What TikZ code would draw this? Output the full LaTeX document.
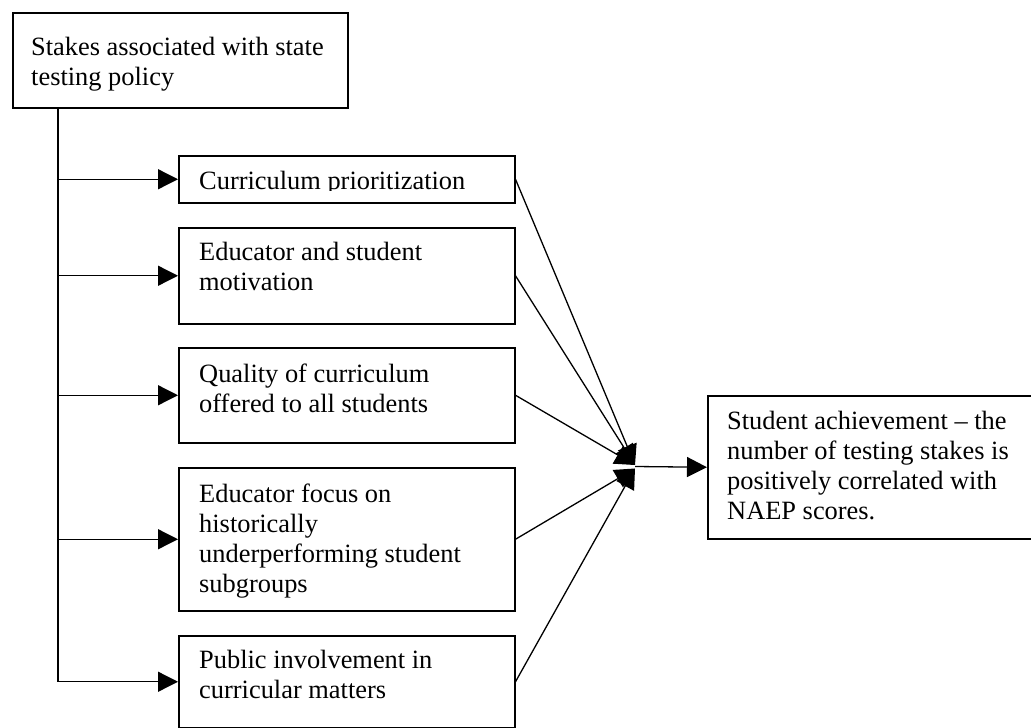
\documentclass[tikz,border=0pt]{standalone}
\usepackage{fontspec}
\setmainfont{Liberation Serif}
\usetikzlibrary{arrows.meta}
\begin{document}
\begin{tikzpicture}[x=1pt,y=-1pt,
  boxstyle/.style={draw,line width=1.5pt,inner sep=0pt,anchor=north west},
  lbl/.style={inner sep=0pt,anchor=base west,font=\fontsize{26.4}{30}\selectfont},
  conn/.style={line width=1.3pt},
  arr/.style={conn,-{Triangle[length=20pt,width=20pt]}}]
\useasboundingbox (0,0) rectangle (1031,728);
% boxes
\node[boxstyle,line width=2pt,minimum width=335pt,minimum height=95pt] (top) at (12,12) {};
\node[boxstyle,minimum width=336pt,minimum height=47pt] (b1) at (178,155) {};
\node[boxstyle,minimum width=336pt,minimum height=96pt] (b2) at (178,227) {};
\node[boxstyle,minimum width=336pt,minimum height=95pt] (b3) at (178,347) {};
\node[boxstyle,minimum width=336pt,minimum height=143pt] (b4) at (178,467) {};
\node[boxstyle,minimum width=336pt,minimum height=92pt] (b5) at (178,635) {};
\node[boxstyle,minimum width=330pt,minimum height=143pt] (res) at (707,395) {};
% texts
\node[lbl] (topt) at (31,55) {\parbox[t]{320pt}{\raggedright Stakes associated with state\\testing policy}};
\begin{scope}
\clip (178,155) rectangle (514,190);
\node[lbl] (b1t) at (199,189) {\parbox[t]{310pt}{\raggedright Curriculum prioritization}};
\end{scope}
\node[lbl] (b2t) at (199,260) {\parbox[t]{310pt}{\raggedright Educator and student\\motivation}};
\node[lbl] (b3t) at (199,382) {\parbox[t]{310pt}{\raggedright Quality of curriculum\\offered to all students}};
\node[lbl] (b4t) at (199,502) {\parbox[t]{310pt}{\raggedright Educator focus on\\historically\\underperforming student\\subgroups}};
\node[lbl] (b5t) at (199,668) {\parbox[t]{310pt}{\raggedright Public involvement in\\curricular matters}};
\node[lbl] (rest) at (727,429) {\parbox[t]{310pt}{\raggedright Student achievement – the\\number of testing stakes is\\positively correlated with\\NAEP scores.}};
% trunk and branches
\coordinate (trunk) at (58,107);
\draw[arr] (trunk) |- (b5.west);
\draw[arr] (trunk |- b1.west) -- (b1.west);
\draw[arr] (trunk |- b2.west) -- (b2.west);
\draw[arr] (trunk |- b3.west) -- (b3.west);
\draw[arr] (trunk |- b4.west) -- (b4.west);
% convergence
\coordinate (hubU) at (635,465);
\coordinate (hubL) at (635,468.5);
\coordinate (hub) at (635,466.5);
\draw[arr] (b1.east) -- (hubU);
\draw[arr] (b2.east) -- (hubU);
\draw[arr] (b3.east) -- (hubU);
\draw[arr] (b4.east) -- (hubL);
\draw[arr] (b5.east) -- (hubL);
\draw[arr] (hub) -- (res.west);
\end{tikzpicture}
\end{document}
